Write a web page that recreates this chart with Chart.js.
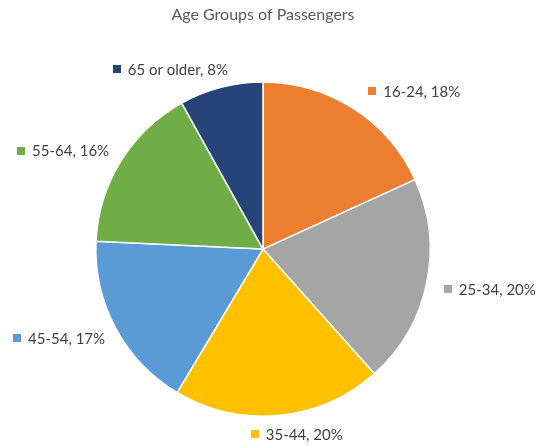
<!DOCTYPE html>
<html>
<head>
<meta charset="utf-8">
<script src="https://cdn.jsdelivr.net/npm/chart.js@4.4.0/dist/chart.umd.min.js"></script>
<style>
  html, body { margin: 0; padding: 0; background: #ffffff; }
  #wrap { width: 540px; height: 446px; position: relative; }
</style>
</head>
<body>
<div id="wrap"><canvas id="c" width="540" height="446"></canvas></div>
<script>
const categories = ["16-24", "25-34", "35-44", "45-54", "55-64", "65 or older"];
const shares = [18, 20, 20, 17, 16, 8];
const sliceColors = ["#ED7D31", "#A5A5A5", "#FFC000", "#5B9BD5", "#70AD47", "#264478"];
const chartTitle = "Age Groups of Passengers";

// label placement relative to pie centre, in units of the radius (layout only)
const labelOffsets = [
  [0.905, -0.946],
  [1.357, 0.238],
  [0.202, 1.107],
  [-1.220, 0.530],
  [-1.196, -0.589],
  [-0.554, -1.077]
];

const labelPlugin = {
  id: 'outsideLabels',
  afterDatasetsDraw(chart) {
    const ctx = chart.ctx;
    const meta = chart.getDatasetMeta(0);
    ctx.save();
    ctx.font = '15px Lato';
    ctx.textBaseline = 'middle';
    meta.data.forEach((arc, i) => {
      const p = arc.getProps(['x', 'y', 'outerRadius'], true);
      const text = categories[i] + ', ' + shares[i] + '%';
      const tw = ctx.measureText(text).width;
      const sq = 8, gap = 7;
      const total = sq + gap + tw;
      const cx = p.x + labelOffsets[i][0] * p.outerRadius;
      const cy = p.y + labelOffsets[i][1] * p.outerRadius;
      const x0 = cx - total / 2;
      ctx.fillStyle = sliceColors[i];
      ctx.fillRect(Math.round(x0), Math.round(cy - sq / 2), sq, sq);
      ctx.fillStyle = '#404040';
      ctx.textAlign = 'left';
      ctx.fillText(text, x0 + sq + gap, cy + 1);
    });
    ctx.restore();
  }
};

new Chart(document.getElementById('c'), {
  type: 'pie',
  data: {
    labels: categories,
    datasets: [{
      data: shares,
      backgroundColor: sliceColors,
      borderColor: '#ffffff',
      borderWidth: 1.5
    }]
  },
  options: {
    responsive: false,
    animation: false,
    layout: { padding: { top: 0, bottom: 29, left: 0, right: 14 } },
    plugins: {
      legend: { display: false },
      tooltip: { enabled: false },
      title: {
        display: true,
        text: chartTitle,
        color: '#595959',
        font: { family: 'Lato', size: 16, weight: 'normal', lineHeight: 1.2 },
        padding: { top: 5, bottom: 57 }
      }
    }
  },
  plugins: [labelPlugin]
});
</script>
</body>
</html>
